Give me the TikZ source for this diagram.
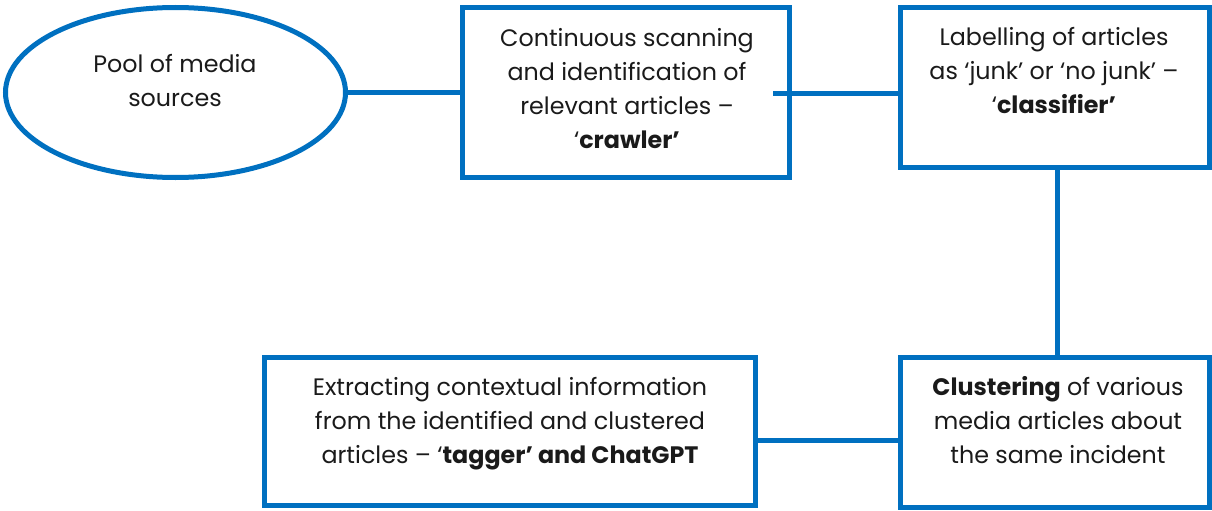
\documentclass[tikz,border=0pt]{standalone}
\usepackage{fontspec}
\setmainfont{Poppins}
\usetikzlibrary{shapes.geometric}
\definecolor{flowblue}{HTML}{0070C0}
\definecolor{ink}{HTML}{1A1A1A}
\tikzset{
  box/.style={draw=flowblue, line width=5pt, rectangle, inner sep=0pt},
  oval/.style={draw=flowblue, line width=5pt, ellipse, inner sep=0pt},
  conn/.style={draw=flowblue, line width=5pt},
  txt/.style={text=ink, align=center, anchor=base, inner sep=0pt,
    font=\fontsize{23.8}{34}\selectfont},
}
\begin{document}
\begin{tikzpicture}[x=1pt,y=-1pt]
\useasboundingbox (0,0) rectangle (1212,511);
\node[oval, minimum width=340pt, minimum height=170pt] (pool) at (175.5,92.5) {};
\node[box, minimum width=327pt, minimum height=170pt] (crawler) at (626,92.5) {};
\node[box, minimum width=309pt, minimum height=160pt] (classifier) at (1055,87.5) {};
\node[box, minimum width=309pt, minimum height=150pt] (cluster) at (1055,432.5) {};
\node[box, minimum width=491pt, minimum height=148pt] (tagger) at (510,431.5) {};

\node[txt] (pooltxt) at (175,106) {Pool of media\\sources};
\node[txt] (crawlertxt) at (627,148) {Continuous scanning\\and identification of\\relevant articles –\\‘\textbf{crawler’}};
\node[txt] (classifiertxt) at (1054,113) {Labelling of articles\\as ‘junk’ or ‘no junk’ –\\‘\textbf{classifier’}};
\node[txt] (clustertxt) at (1058,463) {\textbf{Clustering} of various\\media articles about\\the same incident};
\node[txt] (taggertxt) at (510,463) {Extracting contextual information\\from the identified and clustered\\articles – ‘\textbf{tagger’ and ChatGPT}};

\draw[conn] (pool.east) -- (crawler.west |- pool.east);
\coordinate (c1) at (773,93);
\draw[conn] (c1) -- (c1 -| classifier.west);
\coordinate (c2) at (1057,0);
\draw[conn] (c2 |- classifier.south) -- (c2 |- cluster.north);
\coordinate (c3) at (0,440);
\draw[conn] (c3 -| tagger.east) -- (c3 -| cluster.west);
\end{tikzpicture}
\end{document}
